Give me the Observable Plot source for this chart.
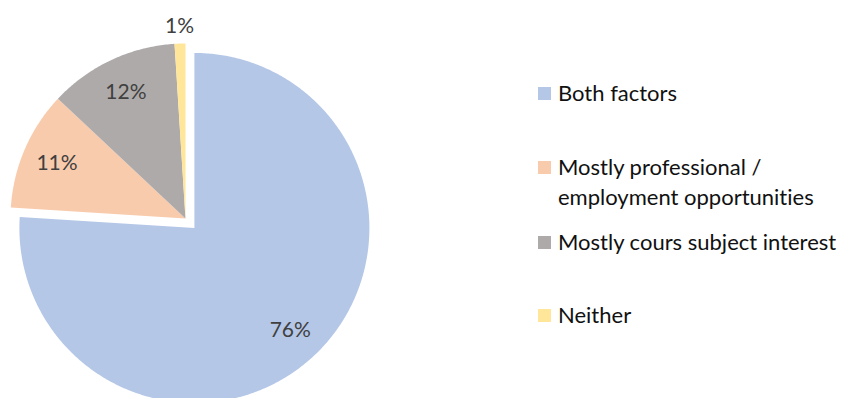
<!DOCTYPE html>
<html>
<head>
<meta charset="utf-8">
<script src="https://cdn.jsdelivr.net/npm/d3@7"></script>
<script src="https://cdn.jsdelivr.net/npm/@observablehq/plot@0.6"></script>
<style>
  html, body { margin: 0; padding: 0; background: #fff; }
  #wrap { position: relative; width: 843px; height: 398px; overflow: hidden; }
  #legend { position: absolute; left: 0; top: 0; font-family: Lato, "Open Sans", sans-serif; font-size: 22px; color: #111; font-variant-ligatures: none; }
  .item { position: absolute; left: 538px; display: flex; align-items: flex-start; line-height: 30px; white-space: nowrap; }
  .sw { width: 13px; height: 13px; margin-top: 9px; margin-right: 7px; flex: none; }
</style>
</head>
<body>
<div id="wrap"><div id="legend"></div></div>
<script>
const categories = ["Both factors", "Mostly professional / employment opportunities", "Mostly cours subject interest", "Neither"];
const legendLines = [["Both factors"], ["Mostly professional /", "employment opportunities"], ["Mostly cours subject interest"], ["Neither"]];
const values = [76, 11, 12, 1];
const labels = ["76%", "11%", "12%", "1%"];
const colors = ["#B4C7E7", "#F8CBAD", "#AEAAAA", "#FFE699"];

// layout
const W = 843, H = 398;
const R = 175, CX = 185, CY = 218;
const explode = [13, 0, 0, 0];      // px offset along mid-angle
const labelR = [0.8, 0.8, 0.8, 1.1]; // label radius as fraction of R
const legendTop = [78, 152, 227, 300];

const arcs = d3.pie().sort(null).value(d => d)(values);
const pts = [];
const lbl = [];
arcs.forEach((a, i) => {
  const mid = (a.startAngle + a.endAngle) / 2;
  const ox = Math.sin(mid) * explode[i] / R;
  const oy = -Math.cos(mid) * explode[i] / R;
  const n = Math.max(4, Math.ceil((a.endAngle - a.startAngle) / 0.01));
  pts.push({category: categories[i], x: ox, y: oy});
  for (let k = 0; k <= n; k++) {
    const t = a.startAngle + (a.endAngle - a.startAngle) * k / n;
    pts.push({category: categories[i], x: ox + Math.sin(t), y: oy - Math.cos(t)});
  }
  pts.push({category: categories[i], x: ox, y: oy});
  lbl.push({text: labels[i], x: ox + Math.sin(mid) * labelR[i], y: oy - Math.cos(mid) * labelR[i]});
});

const chart = Plot.plot({
  width: W, height: H,
  margin: 0,
  x: {domain: [-CX / R, (W - CX) / R], range: [0, W], axis: null},
  y: {domain: [-CY / R, (H - CY) / R], range: [0, H], axis: null},
  color: {domain: categories, range: colors},
  style: {background: "#fff"},
  marks: [
    Plot.line(pts, {x: "x", y: "y", z: "category", fill: "category", stroke: "none", curve: "linear"}),
    Plot.text(lbl, {x: "x", y: "y", text: "text", fill: "#404040", fontSize: 21, fontFamily: "Lato, 'Open Sans', sans-serif"})
  ]
});
document.getElementById("wrap").prepend(chart);
chart.style.position = "absolute";
chart.style.left = "0";
chart.style.top = "0";

const leg = document.getElementById("legend");
legendLines.forEach((lines, i) => {
  const it = document.createElement("div");
  it.className = "item";
  it.style.top = legendTop[i] + "px";
  const sw = document.createElement("div");
  sw.className = "sw";
  sw.style.background = colors[i];
  const tx = document.createElement("div");
  tx.innerHTML = lines.join("<br>");
  it.appendChild(sw);
  it.appendChild(tx);
  leg.appendChild(it);
});
</script>
</body>
</html>
